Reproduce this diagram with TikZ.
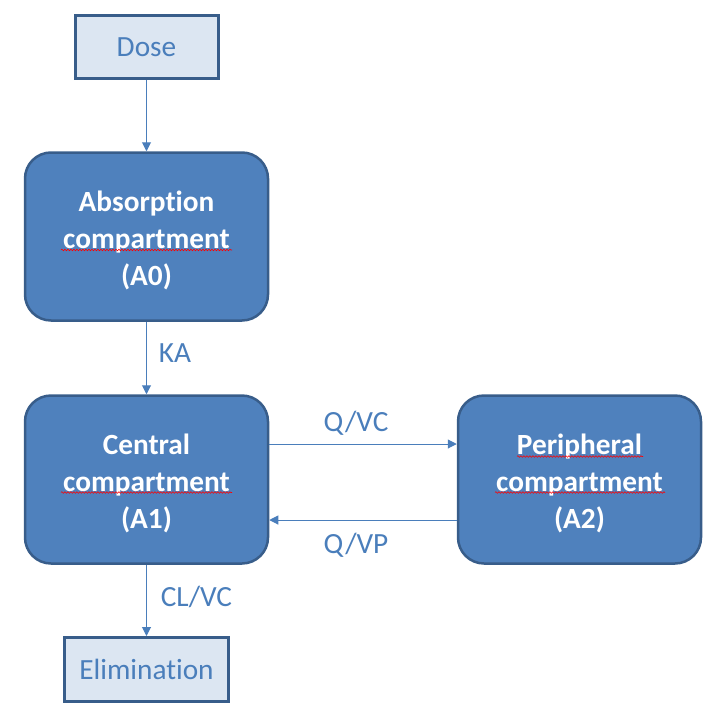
\documentclass[tikz,border=0pt]{standalone}
\usepackage{fontspec}
\setmainfont{Carlito}[Ligatures=NoCommon]
\usetikzlibrary{arrows.meta,decorations.pathmorphing}
\definecolor{boxfill}{HTML}{4F81BD}
\definecolor{boxline}{HTML}{385D8A}
\definecolor{lightfill}{HTML}{DCE6F2}
\definecolor{txtblue}{HTML}{4A7EBB}
\newcommand{\toppad}{\rule{0pt}{29pt}}
\begin{document}
\begin{tikzpicture}[x=1pt,y=-1pt,
  comp/.style={draw=boxline, line width=2.5pt, fill=boxfill, rounded corners=26pt,
    minimum width=243pt, minimum height=168pt, inner sep=0pt, text=white,
    font=\fontsize{29.3}{36.8}\selectfont\bfseries, align=center},
  io/.style={draw=boxline, line width=3pt, fill=lightfill, inner sep=0pt,
    text=txtblue, font=\fontsize{29.3}{36}\selectfont},
  conn/.style={draw=txtblue, line width=1pt, -{Triangle[length=9pt,width=9pt]}},
  lab/.style={text=txtblue, font=\fontsize{29.3}{36}\selectfont, inner sep=0pt},
  spell/.style={draw=red, line width=0.6pt, decorate,
    decoration={snake, amplitude=0.8pt, segment length=3pt}}]
\useasboundingbox (0,0) rectangle (719,717);
\node[io, minimum width=143pt, minimum height=63pt] (dose) at (146.5,47) {Dose};
\node[comp] (abs) at (146.5,236.5) {\toppad Absorption\\compartment\\(A0)};
\node[comp] (cen) at (146.5,479.5) {\toppad Central\\compartment\\(A1)};
\node[comp] (per) at (579.5,479.5) {\toppad Peripheral\\compartment\\(A2)};
\node[io, minimum width=164pt, minimum height=64pt] (eli) at (146.5,669.5) {Elimination};
\draw[conn] (dose) -- (abs);
\draw[conn] (abs) -- (cen);
\draw[conn] (cen) -- (eli);
\draw[conn] (cen.east |- 0,444) -- (per.west |- 0,444);
\draw[conn] (per.west |- 0,520) -- (cen.east |- 0,520);
\node[lab] (ka) at (175,353) {KA};
\node[lab] (qvc) at (356,423) {Q/VC};
\node[lab] (qvp) at (356,545) {Q/VP};
\node[lab] (clvc) at (196.5,597) {CL/VC};
\draw[spell] (61,250) -- (232,250);
\draw[spell] (61,492.5) -- (232,492.5);
\draw[spell] (517,456.5) -- (643,456.5);
\draw[spell] (495,492.5) -- (665,492.5);
\end{tikzpicture}
\end{document}
